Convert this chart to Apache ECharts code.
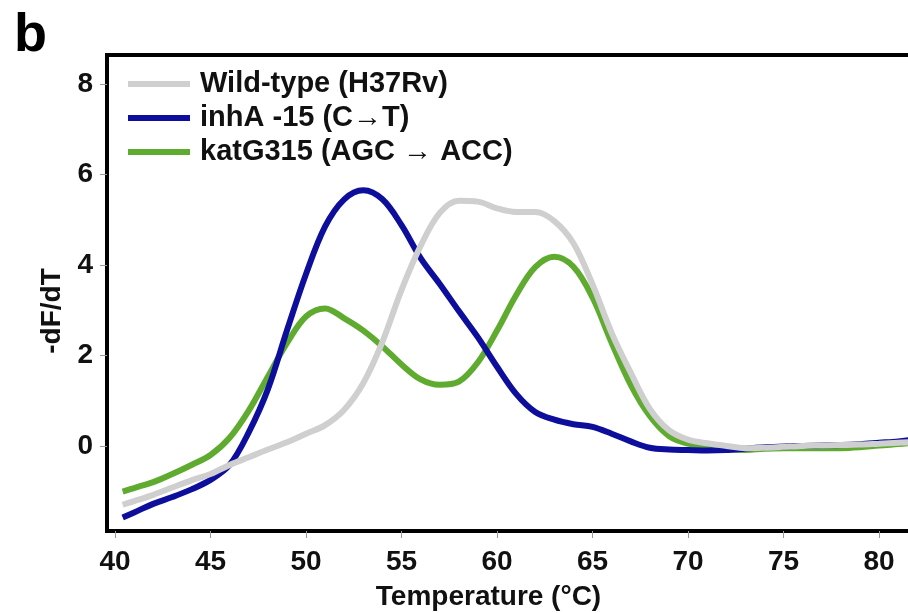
<!DOCTYPE html>
<html>
<head>
<meta charset="utf-8">
<script src="https://cdn.jsdelivr.net/npm/echarts@6/dist/echarts.min.js"></script>
<style>
  html, body { margin: 0; padding: 0; background: #fff; }
  #chart { width: 908px; height: 613px; }
</style>
</head>
<body>
<div id="chart"></div>
<script>
// Melting temperature sampling points (°C)
const temps = [40.4, 41, 42, 43, 44, 45, 46, 47, 48, 49, 50, 51, 52, 53, 54, 55, 56, 57, 58, 59,
  60, 61, 62, 63, 64, 65, 66, 67, 68, 69, 70, 71, 72, 73, 74, 75, 76, 77, 78, 79, 80, 81, 81.6];

// -dF/dT melt curves
const wildType = [-1.30, -1.22, -1.08, -0.92, -0.76, -0.62, -0.42, -0.25, -0.08, 0.08,
  0.27, 0.46, 0.80, 1.39, 2.30, 3.45, 4.42, 5.15, 5.42, 5.40,
  5.25, 5.17, 5.17, 4.97, 4.48, 3.57, 2.50, 1.62, 0.82, 0.35,
  0.14, 0.06, 0.00, -0.05, -0.04, -0.02, 0.00, 0.01, 0.02, 0.03, 0.05, 0.07, 0.08];

const inhA = [-1.58, -1.47, -1.28, -1.13, -0.96, -0.75, -0.42, 0.30, 1.25, 2.55,
  3.80, 4.85, 5.45, 5.65, 5.45, 4.88, 4.15, 3.58, 2.98, 2.40,
  1.75, 1.15, 0.75, 0.58, 0.48, 0.42, 0.27, 0.10, -0.04, -0.08,
  -0.09, -0.10, -0.09, -0.06, -0.03, -0.01, 0.00, 0.01, 0.02, 0.04, 0.07, 0.10, 0.13];

const katG = [-1.01, -0.93, -0.80, -0.62, -0.42, -0.20, 0.18, 0.78, 1.53, 2.27,
  2.86, 3.04, 2.82, 2.55, 2.20, 1.80, 1.47, 1.35, 1.42, 1.85,
  2.55, 3.33, 3.95, 4.18, 3.96, 3.28, 2.28, 1.35, 0.66, 0.22,
  0.05, -0.01, -0.07, -0.09, -0.06, -0.05, -0.05, -0.05, -0.05, -0.03, 0.01, 0.04, 0.06];

const seriesNames = ['Wild-type (H37Rv)', 'inhA -15 (C\u2192T)', 'katG315 (AGC \u2192 ACC)'];
const xTicks = [40, 45, 50, 55, 60, 65, 70, 75, 80];
const yTicks = [0, 2, 4, 6, 8];

const FONT = '"Liberation Sans", Arial, sans-serif';
const pair = vals => temps.map((t, i) => [t, vals[i]]);

const chart = echarts.init(document.getElementById('chart'), null, { renderer: 'canvas' });

chart.setOption({
  animation: false,
  backgroundColor: '#ffffff',
  title: {
    text: 'b',
    left: 9,
    top: 4,
    textStyle: { fontFamily: FONT, fontWeight: 'bold', fontSize: 54, color: '#000' }
  },
  legend: {
    orient: 'vertical',
    left: 123,
    top: 63,
    itemWidth: 62,
    itemHeight: 6,
    itemGap: 2,
    icon: 'rect',
    data: seriesNames,
    textStyle: {
      fontFamily: FONT, fontWeight: 'bold', fontSize: 29, color: '#111',
      lineHeight: 32, padding: [0, 0, 0, 5]
    }
  },
  grid: {
    left: 107, top: 55, width: 807, bottom: 82,
    outerBoundsMode: 'none',
    containLabel: false,
    show: true, borderColor: '#000', borderWidth: 4, backgroundColor: 'transparent'
  },
  xAxis: {
    type: 'value',
    min: 39.58,
    max: 81.83,
    name: 'Temperature (\u00B0C)',
    nameLocation: 'middle',
    nameGap: 52,
    nameTextStyle: {
      fontFamily: FONT, fontWeight: 'bold', fontSize: 28, color: '#111',
      padding: [0, 44, 0, 0]
    },
    axisLine: { show: false, onZero: false },
    splitLine: { show: false },
    axisTick: {
      show: true, length: 7, customValues: xTicks,
      lineStyle: { color: '#999', width: 1 }
    },
    axisLabel: {
      customValues: xTicks, margin: 17,
      fontFamily: FONT, fontWeight: 'bold', fontSize: 28, color: '#111'
    }
  },
  yAxis: {
    type: 'value',
    min: -1.88,
    max: 8.64,
    name: '-dF/dT',
    nameLocation: 'middle',
    nameGap: 41,
    nameTextStyle: {
      fontFamily: FONT, fontWeight: 'bold', fontSize: 28, color: '#111',
      padding: [0, 36, 0, 0]
    },
    axisLine: { show: false, onZero: false },
    splitLine: { show: false },
    axisTick: {
      show: true, length: 7, customValues: yTicks,
      lineStyle: { color: '#999', width: 1 }
    },
    axisLabel: {
      customValues: yTicks, margin: 14,
      fontFamily: FONT, fontWeight: 'bold', fontSize: 28, color: '#111'
    }
  },
  series: [
    {
      name: seriesNames[0], type: 'line', data: pair(wildType), z: 4,
      smooth: 0.35, showSymbol: false, symbol: 'none',
      lineStyle: { color: '#cfcfcf', width: 6 }, itemStyle: { color: '#cfcfcf' }
    },
    {
      name: seriesNames[1], type: 'line', data: pair(inhA), z: 3,
      smooth: 0.35, showSymbol: false, symbol: 'none',
      lineStyle: { color: '#0e0e9c', width: 6 }, itemStyle: { color: '#0e0e9c' }
    },
    {
      name: seriesNames[2], type: 'line', data: pair(katG), z: 2,
      smooth: 0.35, showSymbol: false, symbol: 'none',
      lineStyle: { color: '#5fab30', width: 6 }, itemStyle: { color: '#5fab30' }
    }
  ]
});
</script>
</body>
</html>
